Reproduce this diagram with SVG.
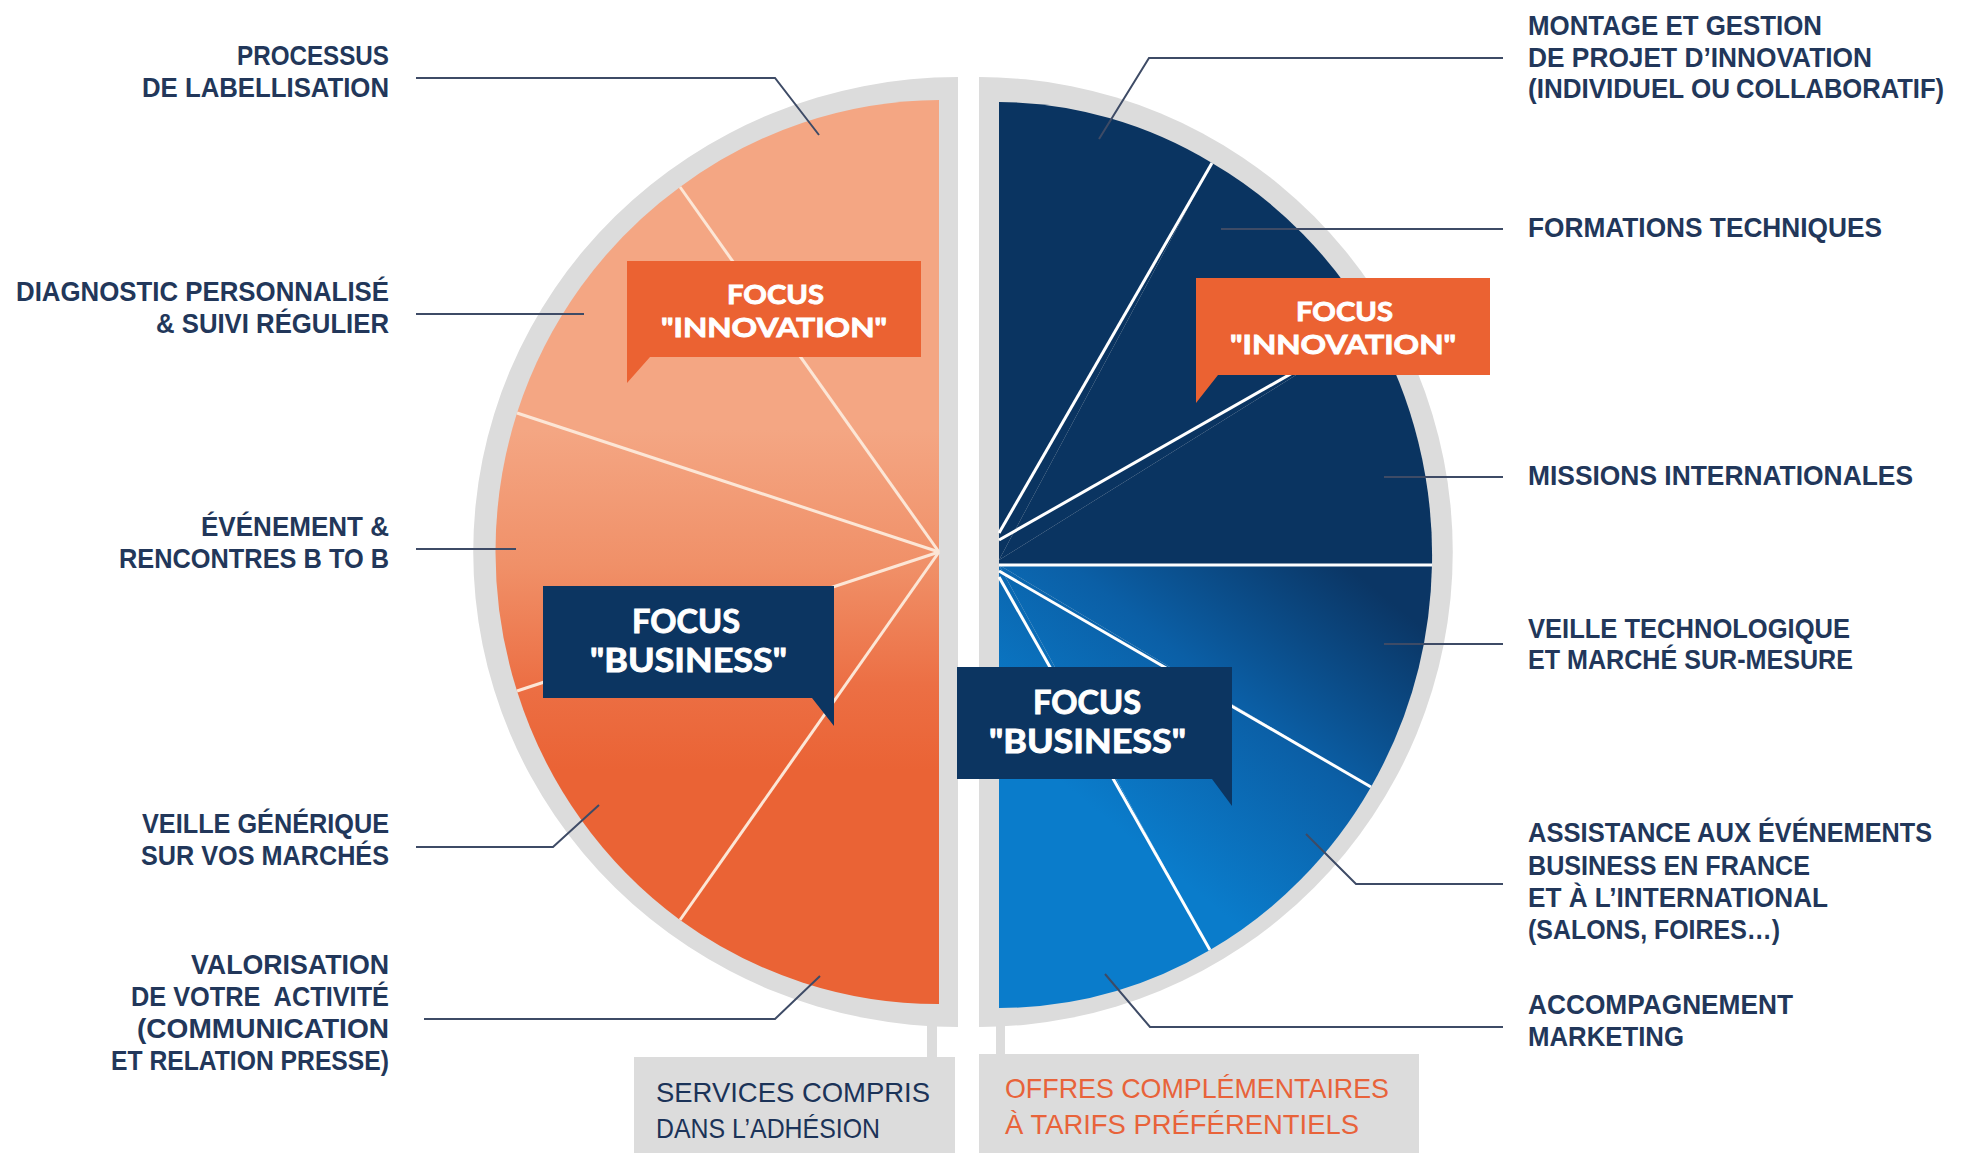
<svg xmlns="http://www.w3.org/2000/svg" width="1962" height="1153" viewBox="0 0 1962 1153">
<style>
.lbl{font-family:"Liberation Sans",Arial,sans-serif;font-weight:700;font-size:28px;fill:#22375A}
.foc{font-family:Lato,"Liberation Sans",sans-serif;font-weight:700;fill:#FFFFFF;stroke:#FFFFFF;stroke-width:0.9}
.box{font-family:"Liberation Sans",Arial,sans-serif;font-size:28px}
.lead{fill:none;stroke:#3E4B66;stroke-width:2}
.sepL{stroke:#FCE6D6;stroke-width:3}
.sepR{stroke:#FFFFFF;stroke-width:3}
.gray{fill:#DCDCDC}
</style>
<defs>
<linearGradient id="gOr" gradientUnits="userSpaceOnUse" x1="0" y1="430" x2="0" y2="770">
<stop offset="0" stop-color="#F4A683"/>
<stop offset="0.4" stop-color="#F09068"/>
<stop offset="0.75" stop-color="#EC6F44"/>
<stop offset="1" stop-color="#EA6335"/>
</linearGradient>
<linearGradient id="gBl" gradientUnits="userSpaceOnUse" x1="1340" y1="560" x2="1120" y2="830">
<stop offset="0" stop-color="#0B3665"/>
<stop offset="0.5" stop-color="#0B5FA6"/>
<stop offset="1" stop-color="#0A7CCB"/>
</linearGradient>
</defs>

<!-- gray frames -->
<g id="frames">
<path class="gray" d="M958,77 A485 475 0 0 0 958,1027 Z"/>
<path class="gray" d="M979,77 A474 475 0 0 1 979,1027 Z"/>
<rect class="gray" x="927" y="1020" width="10" height="40"/>
<rect class="gray" x="996" y="1020" width="9" height="37"/>
</g>

<!-- left half slices -->
<g id="slice-processus"><path fill="url(#gOr)" d="M939,552 L939,100 A444 452 0 0 0 680,187 Z"/></g>
<g id="slice-diagnostic"><path fill="url(#gOr)" d="M939,552 L680,187 A444 452 0 0 0 517,413 Z"/></g>
<g id="slice-evenement"><path fill="url(#gOr)" d="M939,552 L517,413 A444 452 0 0 0 517,691 Z"/></g>
<g id="slice-veille-generique"><path fill="url(#gOr)" d="M939,552 L517,691 A444 452 0 0 0 680,920 Z"/></g>
<g id="slice-valorisation"><path fill="url(#gOr)" d="M939,552 L680,920 A444 452 0 0 0 939,1004 Z"/></g>

<!-- right half slices -->
<g id="slice-montage"><path fill="#0A3461" d="M999,560 L999,102 A433 453 0 0 1 1212,163 Z"/></g>
<g id="slice-formations"><path fill="#0A3461" d="M999,560 L1212,163 A433 453 0 0 1 1373,327 Z"/></g>
<g id="slice-missions"><path fill="#0A3461" d="M999,560 L1373,327 A433 453 0 0 1 1432,565 L999,565 Z"/></g>
<g id="slice-veille-techno"><path fill="url(#gBl)" d="M999,565 L1432,565 A433 453 0 0 1 1371,787 Z"/></g>
<g id="slice-assistance"><path fill="url(#gBl)" d="M999,565 L1371,787 A433 453 0 0 1 1210,950 Z"/></g>
<g id="slice-accompagnement"><path fill="url(#gBl)" d="M999,565 L1210,950 A433 453 0 0 1 999,1008 Z"/></g>

<!-- slice separators -->
<g id="separators">
<line class="sepL" x1="939" y1="552" x2="680" y2="187" stroke-width="2"/>
<line class="sepL" x1="939" y1="552" x2="517" y2="413"/>
<line class="sepL" x1="939" y1="552" x2="517" y2="691"/>
<line class="sepL" x1="939" y1="552" x2="680" y2="920"/>
<line class="sepR" x1="999" y1="533" x2="1212" y2="163"/>
<line class="sepR" x1="999" y1="540" x2="1373" y2="327"/>
<line class="sepR" x1="999" y1="565" x2="1432" y2="565" stroke-width="4"/>
<line class="sepR" x1="999" y1="571" x2="1371" y2="787"/>
<line class="sepR" x1="999" y1="577" x2="1210" y2="950"/>
</g>

<!-- connectors (leader lines) -->
<g id="connectors">
<polyline class="lead" points="416,78 775,78 819,135"/>
<polyline class="lead" points="416,314 584,314"/>
<polyline class="lead" points="416,549 516,549"/>
<polyline class="lead" points="416,847 553,847 599,805"/>
<polyline class="lead" points="424,1019 775,1019 820,976"/>
<polyline class="lead" points="1503,58 1149,58 1099,139"/>
<polyline class="lead" points="1503,229 1221,229"/>
<polyline class="lead" points="1503,477 1384,477"/>
<polyline class="lead" points="1503,644 1384,644"/>
<polyline class="lead" points="1503,884 1356,884 1306,834"/>
<polyline class="lead" points="1503,1027 1150,1027 1105,974"/>
</g>

<!-- focus callouts -->
<g id="focus-innovation-left">
<path fill="#EB6232" d="M627,261 H921 V357 H650 L627,383 Z"/>
<text class="foc" x="727" y="304" font-size="27" textLength="97" lengthAdjust="spacingAndGlyphs">FOCUS</text>
<text class="foc" x="661" y="337" font-size="27" textLength="226" lengthAdjust="spacingAndGlyphs">"INNOVATION"</text>
</g>
<g id="focus-innovation-right">
<path fill="#EB6232" d="M1196,278 H1490 V375 H1218 L1196,403 Z"/>
<text class="foc" x="1296" y="321" font-size="27" textLength="97" lengthAdjust="spacingAndGlyphs">FOCUS</text>
<text class="foc" x="1230" y="354" font-size="27" textLength="226" lengthAdjust="spacingAndGlyphs">"INNOVATION"</text>
</g>
<g id="focus-business-left">
<path fill="#0C3561" d="M543,586 H834 V726 L812,698 H543 Z"/>
<text class="foc" x="632" y="633" font-size="32" textLength="108" lengthAdjust="spacingAndGlyphs">FOCUS</text>
<text class="foc" x="590" y="672" font-size="32" textLength="197" lengthAdjust="spacingAndGlyphs">"BUSINESS"</text>
</g>
<g id="focus-business-right">
<path fill="#0C3561" d="M957,667 H1232 V806 L1212,779 H957 Z"/>
<text class="foc" x="1033" y="714" font-size="32" textLength="108" lengthAdjust="spacingAndGlyphs">FOCUS</text>
<text class="foc" x="989" y="753" font-size="32" textLength="197" lengthAdjust="spacingAndGlyphs">"BUSINESS"</text>
</g>

<!-- left labels -->
<g id="label-processus">
<text class="lbl" x="237" y="65" textLength="152" lengthAdjust="spacingAndGlyphs">PROCESSUS</text>
<text class="lbl" x="142" y="97" textLength="247" lengthAdjust="spacingAndGlyphs">DE LABELLISATION</text>
</g>
<g id="label-diagnostic">
<text class="lbl" x="16" y="301" textLength="373" lengthAdjust="spacingAndGlyphs">DIAGNOSTIC PERSONNALISÉ</text>
<text class="lbl" x="156" y="333" textLength="233" lengthAdjust="spacingAndGlyphs">&amp; SUIVI RÉGULIER</text>
</g>
<g id="label-evenement">
<text class="lbl" x="201" y="536" textLength="188" lengthAdjust="spacingAndGlyphs">ÉVÉNEMENT &amp;</text>
<text class="lbl" x="119" y="568" textLength="270" lengthAdjust="spacingAndGlyphs">RENCONTRES B TO B</text>
</g>
<g id="label-veille-generique">
<text class="lbl" x="142" y="833" textLength="247" lengthAdjust="spacingAndGlyphs">VEILLE GÉNÉRIQUE</text>
<text class="lbl" x="141" y="865" textLength="248" lengthAdjust="spacingAndGlyphs">SUR VOS MARCHÉS</text>
</g>
<g id="label-valorisation">
<text class="lbl" x="191" y="974" textLength="198" lengthAdjust="spacingAndGlyphs">VALORISATION</text>
<text class="lbl" x="131" y="1006" textLength="258" lengthAdjust="spacingAndGlyphs" style="white-space:pre">DE VOTRE  ACTIVITÉ</text>
<text class="lbl" x="137" y="1038" textLength="252" lengthAdjust="spacingAndGlyphs">(COMMUNICATION</text>
<text class="lbl" x="111" y="1070" textLength="278" lengthAdjust="spacingAndGlyphs">ET RELATION PRESSE)</text>
</g>

<!-- right labels -->
<g id="label-montage">
<text class="lbl" x="1528" y="35" textLength="294" lengthAdjust="spacingAndGlyphs">MONTAGE ET GESTION</text>
<text class="lbl" x="1528" y="67" textLength="344" lengthAdjust="spacingAndGlyphs">DE PROJET D’INNOVATION</text>
<text class="lbl" x="1528" y="98" font-size="27" textLength="202" lengthAdjust="spacingAndGlyphs">(INDIVIDUEL OU</text>
<text class="lbl" x="1736" y="98" font-size="25" textLength="208" lengthAdjust="spacingAndGlyphs">COLLABORATIF)</text>
</g>
<g id="label-formations">
<text class="lbl" x="1528" y="237" textLength="354" lengthAdjust="spacingAndGlyphs">FORMATIONS TECHNIQUES</text>
</g>
<g id="label-missions">
<text class="lbl" x="1528" y="485" textLength="385" lengthAdjust="spacingAndGlyphs">MISSIONS INTERNATIONALES</text>
</g>
<g id="label-veille-techno">
<text class="lbl" x="1528" y="638" textLength="322" lengthAdjust="spacingAndGlyphs">VEILLE TECHNOLOGIQUE</text>
<text class="lbl" x="1528" y="669" textLength="325" lengthAdjust="spacingAndGlyphs">ET MARCHÉ SUR-MESURE</text>
</g>
<g id="label-assistance">
<text class="lbl" x="1528" y="842" textLength="223" lengthAdjust="spacingAndGlyphs">ASSISTANCE AUX</text>
<text class="lbl" x="1758" y="842" textLength="174" lengthAdjust="spacingAndGlyphs">ÉVÉNEMENTS</text>
<text class="lbl" x="1528" y="875" textLength="282" lengthAdjust="spacingAndGlyphs">BUSINESS EN FRANCE</text>
<text class="lbl" x="1528" y="907" textLength="300" lengthAdjust="spacingAndGlyphs">ET À L’INTERNATIONAL</text>
<text class="lbl" x="1528" y="939" textLength="252" lengthAdjust="spacingAndGlyphs">(SALONS, FOIRES…)</text>
</g>
<g id="label-accompagnement">
<text class="lbl" x="1528" y="1014" textLength="265" lengthAdjust="spacingAndGlyphs">ACCOMPAGNEMENT</text>
<text class="lbl" x="1528" y="1046" textLength="156" lengthAdjust="spacingAndGlyphs">MARKETING</text>
</g>

<!-- bottom legend boxes -->
<g id="legend-services">
<rect class="gray" x="634" y="1057" width="321" height="96"/>
<text class="box" x="656" y="1102" fill="#1B3358" textLength="274" lengthAdjust="spacingAndGlyphs">SERVICES COMPRIS</text>
<text class="box" x="656" y="1138" fill="#1B3358" textLength="224" lengthAdjust="spacingAndGlyphs">DANS L’ADHÉSION</text>
</g>
<g id="legend-offres">
<rect class="gray" x="979" y="1054" width="440" height="99"/>
<text class="box" x="1005" y="1098" fill="#E8633A" textLength="384" lengthAdjust="spacingAndGlyphs">OFFRES COMPLÉMENTAIRES</text>
<text class="box" x="1005" y="1134" fill="#E8633A" textLength="354" lengthAdjust="spacingAndGlyphs">À TARIFS PRÉFÉRENTIELS</text>
</g>
</svg>
